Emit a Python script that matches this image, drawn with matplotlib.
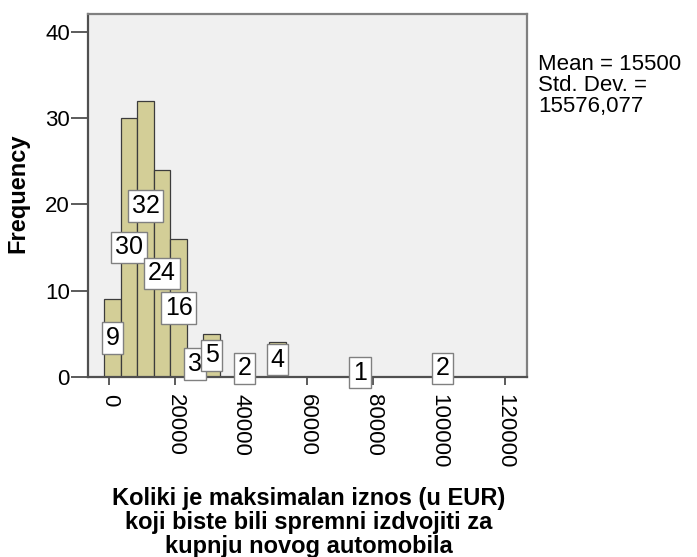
import numpy as np
import matplotlib
matplotlib.use("Agg")
import matplotlib.pyplot as plt

plt.rcParams['font.family'] = ['Liberation Sans', 'DejaVu Sans']

# histogram bins (centre of each 5000 EUR bin) and frequencies
bin_centers = [1000, 6000, 11000, 16000, 21000, 26000, 31000, 41000, 51000, 76000, 101000]
counts = [9, 30, 32, 24, 16, 3, 5, 2, 4, 1, 2]
bin_width = 5000

x_ticks = [0, 20000, 40000, 60000, 80000, 100000, 120000]
y_ticks = [0, 10, 20, 30, 40]

stats_text = "Mean = 15500\nStd. Dev. =\n15576,077"
x_title = "Koliki je maksimalan iznos (u EUR)\nkoji biste bili spremni izdvojiti za\nkupnju novog automobila"

fig = plt.figure(figsize=(6.97, 5.57), dpi=100)
ax = fig.add_axes([88/697, 1 - 377/557, (527 - 88)/697, (377 - 13.5)/557])
ax.set_facecolor('#F0F0F0')

ax.bar(bin_centers, counts, width=bin_width, color='#D3CE97', edgecolor='#3C3C3C', linewidth=0.9, zorder=2)

# value labels, roughly at half height (SPSS shifts the one crowded label up)
for xc, c in zip(bin_centers, counts):
    yl = c / 2.0
    if c == 32:
        yl = 19.8
    ax.text(xc, yl, str(c), ha='center', va='center', fontsize=18, zorder=4,
            bbox=dict(boxstyle='square,pad=0.15', facecolor='white', edgecolor='#808080', linewidth=1))

ax.set_xlim(-6450, 126600)
ax.set_ylim(0, 42.1)
ax.set_xticks(x_ticks)
ax.set_xticklabels([str(v) for v in x_ticks], rotation=-90, fontsize=16)
ax.set_yticks(y_ticks)
ax.set_yticklabels([str(v) for v in y_ticks], fontsize=16)
ax.tick_params(axis='x', direction='out', length=6, width=1.2, color='#404040', pad=6)
ax.tick_params(axis='y', direction='out', length=12, width=1.2, color='#404040', pad=1)

for s in ax.spines.values():
    s.set_color('#808080')
    s.set_linewidth(1.6)
ax.spines['left'].set_color('#505050')
ax.spines['bottom'].set_color('#505050')

fig.text(18/697, 1 - 193/557, "Frequency", rotation=90, ha='center', va='center',
         fontsize=17, fontweight='bold')

fig.text(538/697, 1 - 54/557, stats_text, ha='left', va='top', fontsize=16, linespacing=1.0)

fig.text(309/697, 1 - 487/557, x_title, ha='center', va='top', fontsize=17,
         fontweight='bold', linespacing=1.05)

fig.savefig('out.png', dpi=100)
